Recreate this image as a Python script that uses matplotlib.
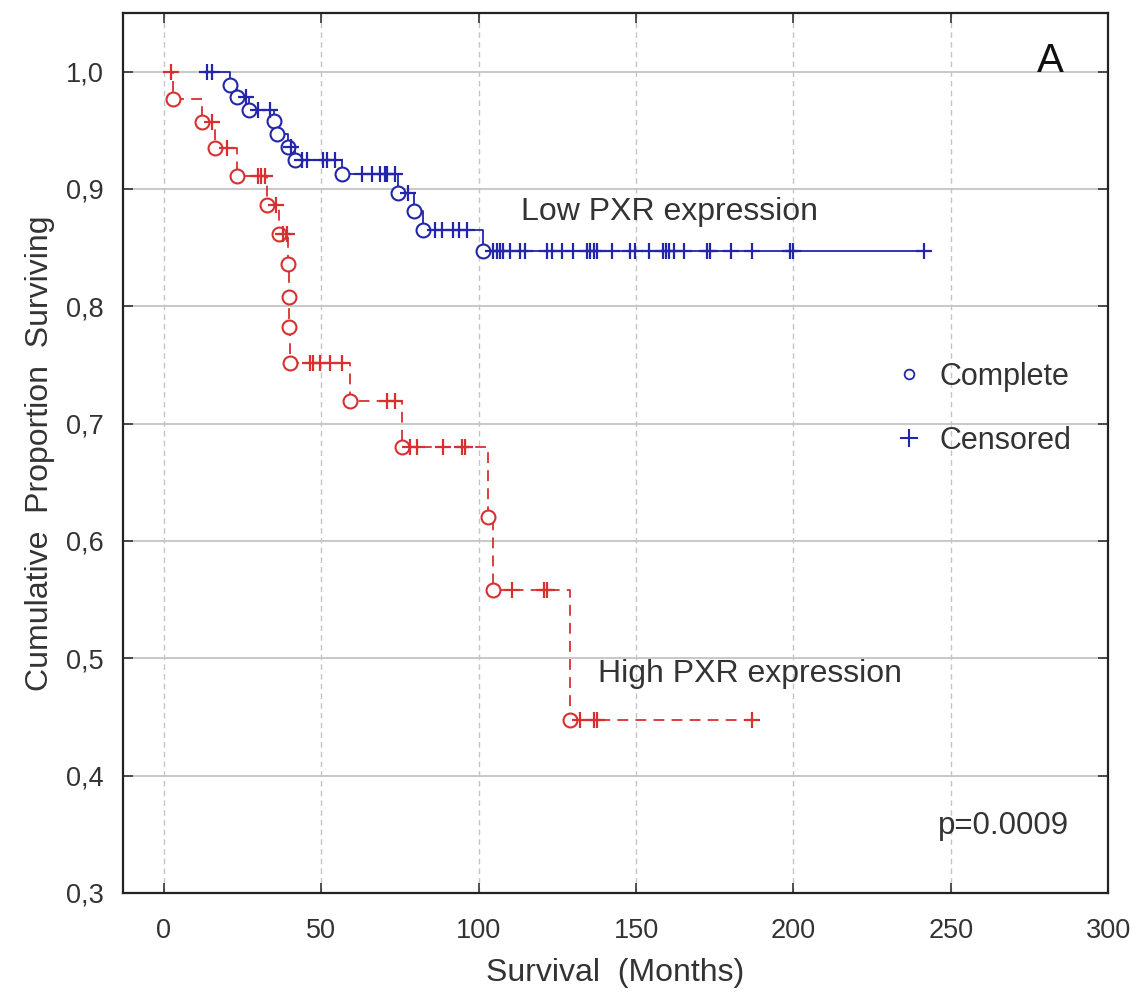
import matplotlib
matplotlib.use("Agg")
import matplotlib.pyplot as plt
from matplotlib.lines import Line2D
from matplotlib.ticker import FuncFormatter

plt.rcParams['font.family'] = ['Liberation Sans', 'DejaVu Sans']

# Low PXR expression: event times, survival after each event, censored times
low_start = 12.0
low_event_t = [21, 23.2, 27, 35, 36, 39.5, 41.6, 56.5, 74.5, 79.5, 82.4, 101.5]
low_event_s = [0.989, 0.978, 0.967, 0.958, 0.947, 0.936, 0.925, 0.913, 0.897, 0.881, 0.865, 0.847]
low_cens_t = [13.7, 15.2, 26, 30, 33.7, 40.5, 44, 45.5, 50.5, 51.7, 54.5,
              62.8, 66, 68.7, 70.2, 71, 73.5, 77.5, 86.1, 88.3, 92, 93.6, 96.2,
              104.7, 105.7, 106.8, 107.8, 110, 113.2, 114.8, 121.6, 123.2, 126.4,
              130, 134.3, 135.4, 136.5, 137.5, 142.3, 148.1, 149.7, 154, 158.5,
              159.5, 160.5, 162, 165.3, 172.5, 173.6, 180, 186.8, 199, 199.8, 241.5]

# High PXR expression
high_start = 0.0
high_event_t = [3, 12, 16.2, 23.3, 32.8, 36.5, 39.3, 39.6, 39.9, 40.2, 59.1, 75.5,
                103, 104.7, 129]
high_event_s = [0.977, 0.957, 0.935, 0.911, 0.886, 0.862, 0.836, 0.808, 0.782, 0.752,
                0.719, 0.680, 0.620, 0.558, 0.447]
high_cens_t = [2.4, 15.2, 19.9, 30, 31, 32, 35.5, 38, 39, 46.4, 47.5, 49.6, 52.8, 56.5,
               70.8, 73.4, 78.2, 80.3, 88.8, 94.6, 95.7, 110.5, 120.6, 121.6,
               132.2, 136.5, 137.5, 186.8]

x_ticks = [0, 50, 100, 150, 200, 250, 300]
y_ticks = [0.3, 0.4, 0.5, 0.6, 0.7, 0.8, 0.9, 1.0]

blue = '#2326a8'
red = '#d83030'


def level_at(t, ev_t, ev_s):
    s = 1.0
    for et, es in zip(ev_t, ev_s):
        if et <= t:
            s = es
    return s


def draw_curve(ax, start, ev_t, ev_s, cens_t, color, ls):
    end = max(cens_t + ev_t)
    xs = [start] + ev_t + [end]
    ys = [1.0] + ev_s + [ev_s[-1]]
    ax.step(xs, ys, where='post', color=color, lw=1.3, ls=ls, zorder=3)
    ax.plot(ev_t, ev_s, 'o', ms=10, mfc='white', mec=color, mew=1.5, zorder=4)
    cy = [level_at(t, ev_t, ev_s) for t in cens_t]
    ax.plot(cens_t, cy, '+', ms=12, color=color, mew=1.6, zorder=5)


fig = plt.figure(figsize=(11.3, 10.01), dpi=100)
ax = fig.add_axes([0.1088, 0.108, 0.872, 0.879])

draw_curve(ax, low_start, low_event_t, low_event_s, low_cens_t, blue, '-')
draw_curve(ax, high_start, high_event_t, high_event_s, high_cens_t, red, (0, (6, 4)))

ax.set_xlim(-13, 300)
ax.set_ylim(0.3, 1.05)
ax.set_xticks(x_ticks)
ax.set_yticks(y_ticks)
ax.yaxis.set_major_formatter(FuncFormatter(lambda v, p: f"{v:.1f}".replace('.', ',')))

for xt in x_ticks:
    ax.axvline(xt, color='#c4c4c4', lw=1.0, ls=(0, (4, 3)), zorder=1)
for yt in y_ticks:
    ax.axhline(yt, color='#c4c4c4', lw=1.3, ls='-', zorder=1)

ax.tick_params(direction='in', length=7, width=1.2, top=True, right=True,
               labelsize=19.5, colors='#333333', pad=14)
ax.tick_params(axis='x', pad=18)
for sp in ax.spines.values():
    sp.set_linewidth(1.6)
    sp.set_color('#222222')

ax.set_xlabel("Survival  (Months)", fontsize=23, color='#333333', labelpad=10)
ax.set_ylabel("Cumulative  Proportion  Surviving", fontsize=23, color='#333333', labelpad=8)

ax.text(113.5, 0.88, "Low PXR expression", fontsize=23, color='#333333', va='center')
ax.text(138, 0.487, "High PXR expression", fontsize=23, color='#333333', va='center')
ax.text(281.5, 1.0, "A", fontsize=29, color='#111111', ha='center', va='baseline')
ax.text(246, 0.35, "p=0.0009", fontsize=22.5, color='#333333', va='baseline')

handles = [Line2D([], [], ls='none', marker='o', ms=7, mfc='none', mec=blue, mew=1.3),
           Line2D([], [], ls='none', marker='+', ms=13, color=blue, mew=1.5)]
ax.legend(handles, ["Complete", "Censored"], loc='center left',
          bbox_to_anchor=(0.757, 0.55), frameon=False, fontsize=22,
          handlelength=0.8, handletextpad=0.6, labelspacing=1.1,
          labelcolor='#333333')

fig.savefig("out.png", dpi=100)
